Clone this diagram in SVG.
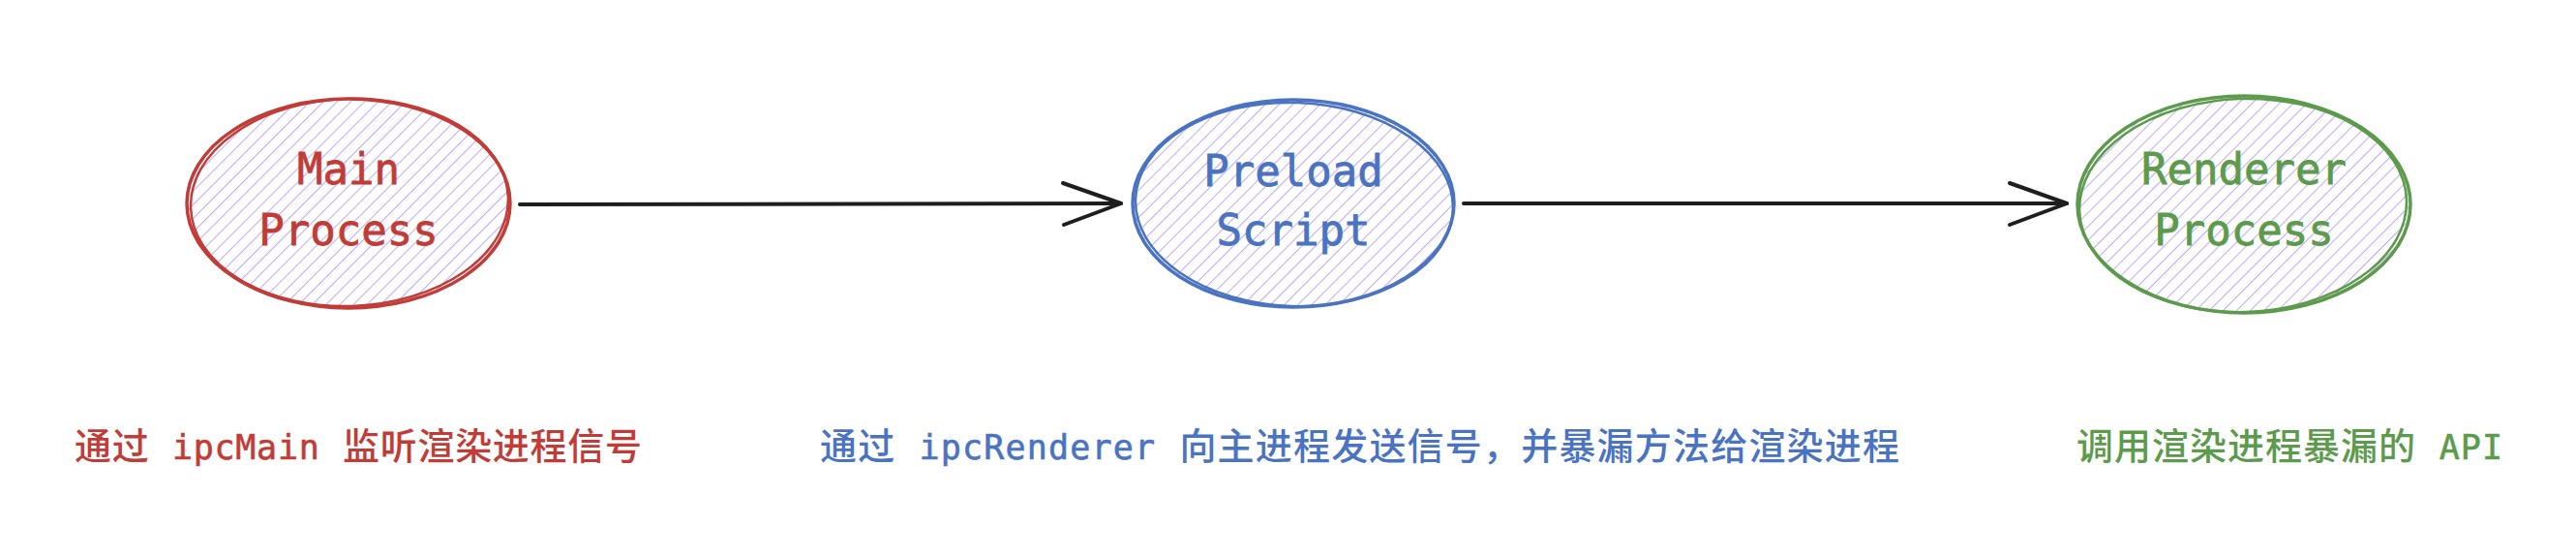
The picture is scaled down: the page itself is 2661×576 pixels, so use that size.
<svg xmlns="http://www.w3.org/2000/svg" width="2661" height="576" viewBox="0 0 2661 576">
  <style>
    .lbl { font-family: "DejaVu Sans Mono", "Liberation Mono", monospace; font-size: 44px; text-anchor: middle; stroke-width: 0.8px; }
    .note { font-family: "DejaVu Sans Mono", "Noto Sans CJK SC", monospace; font-size: 38px; font-weight: 500; }
    .lat { font-size: 35px; stroke-width: 0.6px; }
    .edge { fill: none; stroke: #1e1e1e; stroke-width: 4; stroke-linecap: round; stroke-linejoin: round; }
    .red { fill: #c23c37; }
    .blue { fill: #4a73c2; }
    .green { fill: #5c9a4c; }
    .red .lat, .lbl.red { stroke: #c23c37; }
    .blue .lat, .lbl.blue { stroke: #4a73c2; }
    .green .lat, .lbl.green { stroke: #5c9a4c; }
  </style>
  <defs>
    <pattern id="hatch" patternUnits="userSpaceOnUse" width="10" height="10" patternTransform="rotate(45)">
      <line x1="0" y1="-2" x2="0" y2="12" stroke="#bea9f5" stroke-width="2"/>
    </pattern>
  </defs>
  <rect width="2661" height="576" fill="#ffffff"/>

  <g id="connectors">
    <path class="edge" d="M537 211 C800 210 1000 211 1158 210"/>
    <path class="edge" d="M1098 189 L1158 210 L1099 232"/>
    <path class="edge" d="M1512 210 C1800 209 2000 211 2135 210"/>
    <path class="edge" d="M2076 189 L2135 210 L2076 232"/>
  </g>

  <g id="main-process">
    <ellipse cx="360" cy="210" rx="167" ry="108" fill="url(#hatch)" stroke="#c23c37" stroke-width="3.5"/>
    <ellipse cx="361" cy="209" rx="164" ry="107" fill="none" stroke="#c23c37" stroke-width="2.5" transform="rotate(-2 360 210)"/>
    <text class="lbl red" x="360" y="190">Main</text>
    <text class="lbl red" x="360" y="253">Process</text>
  </g>

  <g id="preload-script">
    <ellipse cx="1336" cy="210" rx="166" ry="107" fill="url(#hatch)" stroke="#4a73c2" stroke-width="3.5"/>
    <ellipse cx="1337" cy="211" rx="164" ry="105" fill="none" stroke="#4a73c2" stroke-width="2.5" transform="rotate(2 1336 210)"/>
    <text class="lbl blue" x="1336" y="192">Preload</text>
    <text class="lbl blue" x="1336" y="253">Script</text>
  </g>

  <g id="renderer-process">
    <ellipse cx="2318" cy="211" rx="172" ry="112" fill="url(#hatch)" stroke="#5c9a4c" stroke-width="3.5"/>
    <ellipse cx="2317" cy="212" rx="169" ry="110" fill="none" stroke="#5c9a4c" stroke-width="2.5" transform="rotate(-2 2318 211)"/>
    <text class="lbl green" x="2318" y="190">Renderer</text>
    <text class="lbl green" x="2318" y="253">Process</text>
  </g>

  <g id="note-main">
    <text class="note red" x="77" y="474" textLength="586" lengthAdjust="spacing">通过 <tspan class="lat">ipcMain</tspan> 监听渲染进程信号</text>
  </g>
  <g id="note-preload">
    <text class="note blue" x="847" y="474" textLength="1115" lengthAdjust="spacing">通过 <tspan class="lat">ipcRenderer</tspan> 向主进程发送信号，并暴漏方法给渲染进程</text>
  </g>
  <g id="note-renderer">
    <text class="note green" x="2145" y="474" textLength="440" lengthAdjust="spacing">调用渲染进程暴漏的 <tspan class="lat">API</tspan></text>
  </g>
</svg>
